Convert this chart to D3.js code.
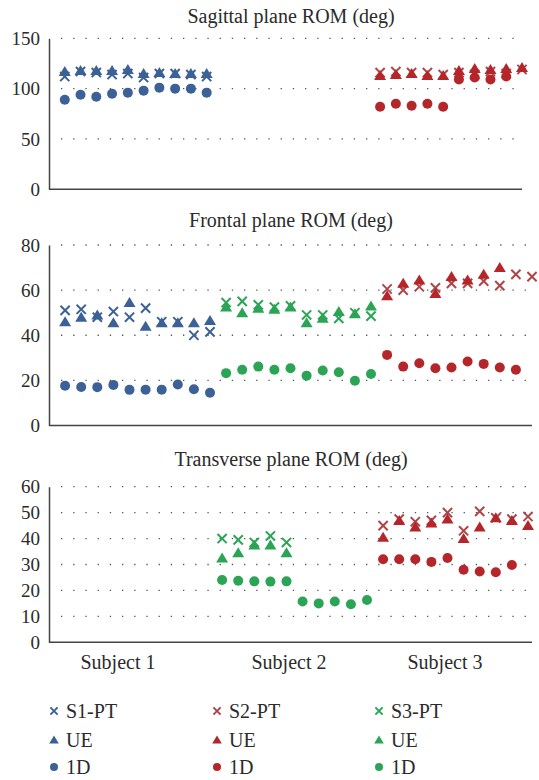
<!DOCTYPE html>
<html>
<head>
<meta charset="utf-8">
<script src="https://cdn.jsdelivr.net/npm/d3@7"></script>
<style>
  body { margin: 0; background: #fff; }
  svg text { font-family: "Liberation Serif", "DejaVu Serif", serif; fill: #2b2b2b; }
</style>
</head>
<body>
<div id="chart"></div>
<script>
// x positions (trial index) for each subject group
const subj1Pos = [1, 2, 3, 4, 5, 6, 7, 8, 9, 10];
const subj2Pos = [11, 12, 13, 14, 15, 16, 17, 18, 19, 20];
const subj3Pos = [21, 22, 23, 24, 25, 26, 27, 28, 29, 30];

// Sagittal plane
const sagBluePT = [112, 117, 116, 114, 115, 111, 115, 115, 114, 112];
const sagBlueUE = [117, 118, 118, 118, 119, 115, 116, 115, 115, 115];
const sagBlue1D = [89, 94, 92, 95, 96, 98, 101, 100, 100, 96];
const sagRedPT = [116, 117, 116, 116, 114, 116, 114, 117, 115, 119];
const sagRedUE = [113, 114, 115, 113, 113, 118, 120, 119, 120, 121];
const sagRed1D = [82, 85, 83, 85, 82, 109, 111, 109, 112, null];

// Frontal plane
const froBluePT = [51, 51.5, 48, 50.5, 48, 52, 46, 46, 40, 41.5];
const froBlueUE = [46, 48, 49, 45.5, 54.5, 44, 45.5, 45.5, 45.5, 46.5];
const froBlue1D = [17.6, 17.1, 17, 18, 15.8, 15.9, 15.9, 18.2, 16.1, 14.5];
const froGreenPT = [54.5, 55, 53.5, 52.5, 53, 49, 49, 47.5, 50, 48.5];
const froGreenUE = [52.5, 50, 52, 51.5, 52.5, 45.5, 47.5, 50.5, 49.5, 53];
const froGreen1D = [23.2, 24.7, 26.1, 24.7, 25.4, 22.1, 24.4, 23.6, 19.8, 22.8];
const froRedPT = [60.5, 60, 61.5, 61, 63, 63, 64, 62, 67, 66];
const froRedUE = [57.5, 63, 64.5, 58.5, 66, 64.5, 67, 70, null, null];
const froRed1D = [31.3, 26.1, 27.6, 25.4, 25.7, 28.4, 27.3, 25.7, 24.7, null];

// Transverse plane
const traGreenPT = [40, 39.5, 38.5, 41, 38.5, null, null, null, null, null];
const traGreenUE = [32.5, 34.5, 37.5, 37.5, 34.5, null, null, null, null, null];
const traGreen1D = [24, 23.7, 23.5, 23.4, 23.5, 15.7, 15, 15.7, 14.7, 16.3];
const traRedPT = [45, 47.5, 46.5, 47, 50, 43, 50.5, 48, 47.5, 48.5];
const traRedUE = [40.5, 47, 44.5, 46, 47.5, 40, 44.5, 48, 47, 45];
const traRed1D = [32, 32, 32, 31, 32.5, 28, 27.3, 27, 29.8, null];

const panelTitles = ["Sagittal plane ROM (deg)", "Frontal plane ROM (deg)", "Transverse plane ROM (deg)"];
const subjectLabels = ["Subject 1", "Subject 2", "Subject 3"];
const legendLabels = [["S1-PT", "UE", "1D"], ["S2-PT", "UE", "1D"], ["S3-PT", "UE", "1D"]];

const blue = "#3b6197", red = "#b5262b", redX = "#ad4649", green = "#2ba555";

const W = 539, H = 780;
const svg = d3.select("#chart").append("svg")
  .attr("width", W)
  .attr("height", H);

// symbols
function drawMark(g, type, color, cx, cy, s) {
  if (type == "x") {
    g.append("path")
      .attr("d", `M${cx - s},${cy - s}L${cx + s},${cy + s}M${cx - s},${cy + s}L${cx + s},${cy - s}`)
      .attr("stroke", color)
      .attr("stroke-width", 2)
      .attr("fill", "none");
  } else if (type == "tri") {
    g.append("path")
      .attr("d", `M${cx},${cy - s * 1.1}L${cx + s * 1.2},${cy + s * 0.9}L${cx - s * 1.2},${cy + s * 0.9}Z`)
      .attr("fill", color);
  } else {
    g.append("circle")
      .attr("cx", cx).attr("cy", cy).attr("r", s)
      .attr("fill", color);
  }
}

const panels = [
  {
    title: panelTitles[0], titleY: 23, max: 150, step: 50,
    yRange: [189.3, 38.3], xRange: [49, 522],
    series: [
      { pos: subj1Pos, vals: sagBluePT, type: "x", color: blue },
      { pos: subj1Pos, vals: sagBlueUE, type: "tri", color: blue },
      { pos: subj1Pos, vals: sagBlue1D, type: "dot", color: blue },
      { pos: subj3Pos, vals: sagRedPT, type: "x", color: redX },
      { pos: subj3Pos, vals: sagRedUE, type: "tri", color: red },
      { pos: subj3Pos, vals: sagRed1D, type: "dot", color: red }
    ]
  },
  {
    title: panelTitles[1], titleY: 227, max: 80, step: 20,
    yRange: [425.5, 245], xRange: [49, 532],
    series: [
      { pos: subj1Pos, vals: froBluePT, type: "x", color: blue },
      { pos: subj1Pos, vals: froBlueUE, type: "tri", color: blue },
      { pos: subj1Pos, vals: froBlue1D, type: "dot", color: blue },
      { pos: subj3Pos, vals: froRedPT, type: "x", color: redX },
      { pos: subj3Pos, vals: froRedUE, type: "tri", color: red },
      { pos: subj3Pos, vals: froRed1D, type: "dot", color: red },
      { pos: subj2Pos, vals: froGreenPT, type: "x", color: green },
      { pos: subj2Pos, vals: froGreenUE, type: "tri", color: green },
      { pos: subj2Pos, vals: froGreen1D, type: "dot", color: green }
    ]
  },
  {
    title: panelTitles[2], titleY: 466, max: 60, step: 10,
    yRange: [642.3, 486.7], xRange: [45, 528],
    series: [
      { pos: subj3Pos, vals: traRedPT, type: "x", color: redX },
      { pos: subj3Pos, vals: traRedUE, type: "tri", color: red },
      { pos: subj3Pos, vals: traRed1D, type: "dot", color: red },
      { pos: subj2Pos, vals: traGreenPT, type: "x", color: green },
      { pos: subj2Pos, vals: traGreenUE, type: "tri", color: green },
      { pos: subj2Pos, vals: traGreen1D, type: "dot", color: green }
    ]
  }
];

let lastX;
panels.forEach(p => {
  let x = d3.scaleLinear().domain([0, 30]).range(p.xRange);
  let y = d3.scaleLinear().domain([0, p.max]).range(p.yRange);
  let ticks = d3.range(0, p.max + 1, p.step);
  let axisLeftX = 49, rightX = p.xRange[1];
  if (p === panels[2]) rightX = 532;
  lastX = x;

  // title
  svg.append("text")
    .attr("x", 291)
    .attr("y", p.titleY)
    .attr("text-anchor", "middle")
    .attr("font-size", "20px")
    .text(p.title);

  // dotted gridlines
  svg.append("g")
    .selectAll("line")
    .data(ticks.filter(t => t > 0))
    .enter()
    .append("line")
    .attr("x1", axisLeftX + 12)
    .attr("x2", rightX)
    .attr("y1", d => y(d))
    .attr("y2", d => y(d))
    .attr("stroke", "#555")
    .attr("stroke-width", 1.3)
    .attr("stroke-dasharray", "1.3,10.9");

  // y axis
  let yaxis = svg.append("g")
    .attr("transform", "translate(" + axisLeftX + ",0)")
    .call(d3.axisLeft(y).tickValues(ticks).tickSize(0).tickPadding(9).tickSizeOuter(0));
  yaxis.select(".domain").attr("stroke", "#444").attr("stroke-width", 1.5);
  yaxis.selectAll("text")
    .attr("font-size", "19px")
    .attr("font-family", "Liberation Serif")
    .attr("fill", "#2b2b2b");

  // x axis line
  svg.append("line")
    .attr("x1", axisLeftX)
    .attr("x2", rightX)
    .attr("y1", y(0))
    .attr("y2", y(0))
    .attr("stroke", "#444")
    .attr("stroke-width", 1.5);

  // marks
  let g = svg.append("g");
  p.series.forEach(s => {
    s.vals.forEach((v, i) => {
      if (v == null) return;
      drawMark(g, s.type, s.color, x(s.pos[i]), y(v), s.type == "x" ? 4.6 : 5);
    });
  });
});

// subject labels
const subjectCenters = [118, 289, 445];
svg.append("g")
  .selectAll("text")
  .data(subjectLabels)
  .enter()
  .append("text")
  .attr("x", (d, i) => subjectCenters[i])
  .attr("y", 669)
  .attr("text-anchor", "middle")
  .attr("font-size", "20px")
  .text(d => d);

// legend
const legendColors = [[blue, blue, blue], [redX, red, red], [green, green, green]];
const legendTypes = ["x", "tri", "dot"];
const legendCols = [54, 217, 379];
const legendRows = [711, 740, 767];
let legend = svg.append("g");
legendLabels.forEach((col, ci) => {
  col.forEach((lab, ri) => {
    drawMark(legend, legendTypes[ri], legendColors[ci][ri], legendCols[ci], legendRows[ri], legendTypes[ri] == "x" ? 3.6 : 4);
    legend.append("text")
      .attr("x", legendCols[ci] + 12)
      .attr("y", legendRows[ri] + 6.5)
      .attr("font-size", "20px")
      .text(lab);
  });
});
</script>
</body>
</html>
